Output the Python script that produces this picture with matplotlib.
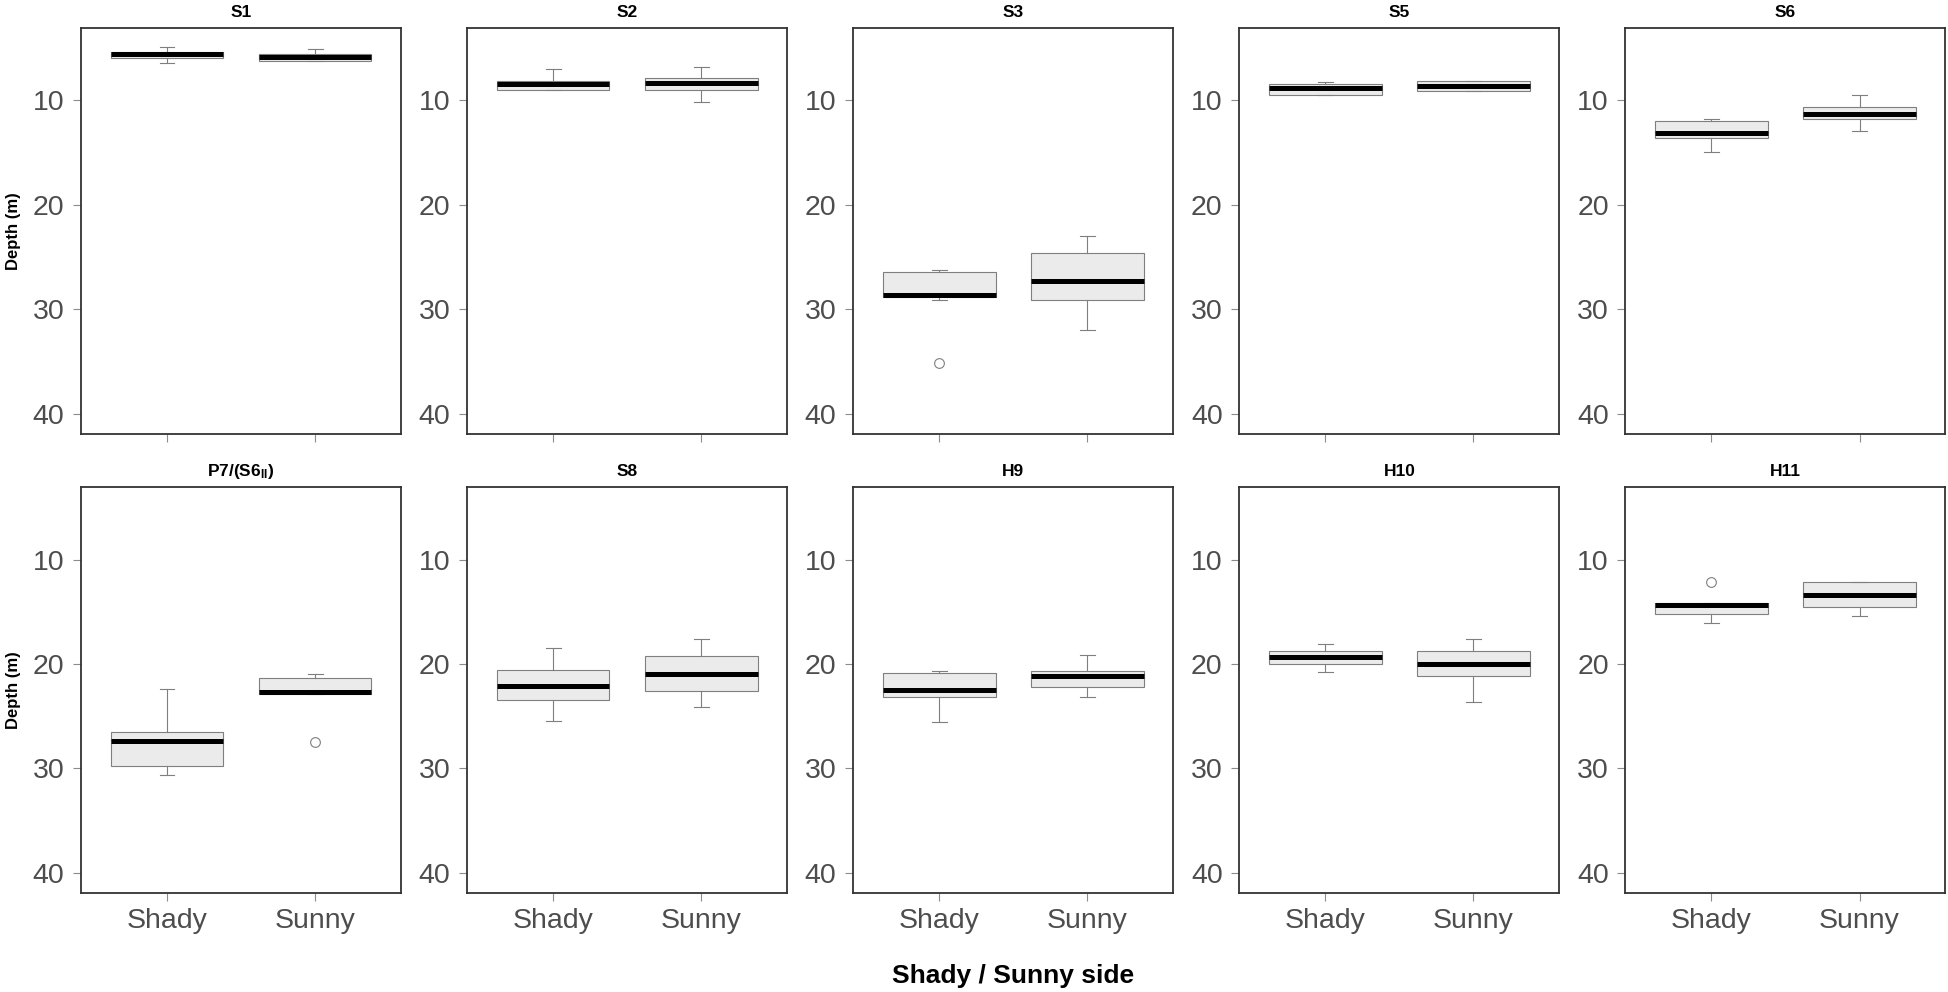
import matplotlib
matplotlib.use("Agg")
import matplotlib.pyplot as plt

plt.rcParams['font.family'] = ['Liberation Sans', 'DejaVu Sans']
plt.rcParams['mathtext.fontset'] = 'custom'
plt.rcParams['mathtext.rm'] = 'Liberation Sans'
plt.rcParams['mathtext.bf'] = 'Liberation Sans:bold'

sites = ['S1', 'S2', 'S3', 'S5', 'S6',
         r'P7/(S6$\mathbf{_{II}}$)', 'S8', 'H9', 'H10', 'H11']
sides = ['Shady', 'Sunny']

# whisker low, Q1, median, Q3, whisker high  (depth, m)
shady_stats = [
    [4.85, 5.33, 5.53, 5.96, 6.38],
    [6.96, 8.15, 8.40, 9.00, 9.00],
    [26.23, 26.42, 28.63, 28.85, 29.07],
    [8.19, 8.38, 8.83, 9.49, 9.49],
    [11.81, 12.00, 13.08, 13.56, 14.92],
    [22.40, 26.55, 27.40, 29.75, 30.63],
    [18.51, 20.54, 22.12, 23.42, 25.44],
    [20.63, 20.89, 22.47, 23.16, 25.57],
    [18.05, 18.77, 19.37, 20.00, 20.75],
    [14.15, 14.15, 14.38, 15.26, 16.11],
]
sunny_stats = [
    [5.10, 5.58, 5.87, 6.22, 6.22],
    [6.80, 7.86, 8.37, 9.00, 10.16],
    [22.97, 24.63, 27.28, 29.07, 31.98],
    [8.13, 8.13, 8.57, 9.05, 9.05],
    [9.52, 10.67, 11.30, 11.78, 12.92],
    [20.92, 21.30, 22.65, 22.87, 22.87],
    [17.63, 19.24, 20.98, 22.56, 24.15],
    [19.11, 20.63, 21.11, 22.22, 23.13],
    [17.64, 18.77, 20.03, 21.16, 23.62],
    [12.12, 12.12, 13.44, 14.57, 15.42],
]
shady_fliers = [[], [], [35.14], [], [], [], [], [], [], [12.12]]
sunny_fliers = [[], [], [], [], [], [27.52], [], [], [], []]

y_ticks = [10, 20, 30, 40]


def to_bxp(s, fl, label):
    return dict(whislo=s[0], q1=s[1], med=s[2], q3=s[3], whishi=s[4],
                fliers=fl, label=label)


fig = plt.figure(figsize=(19.49, 9.92), dpi=100, facecolor='white')

grey = '#7f7f7f'
lefts = [0.0416 + i * 0.1981 for i in range(5)]
rows = [(0.5626, 0.4092), (0.0998, 0.4092)]

for k, site in enumerate(sites):
    r, c = divmod(k, 5)
    bottom, height = rows[r]
    ax = fig.add_axes([lefts[c], bottom, 0.1642, height])
    stats = [to_bxp(shady_stats[k], shady_fliers[k], sides[0]),
             to_bxp(sunny_stats[k], sunny_fliers[k], sides[1])]
    ax.bxp(stats, positions=[1, 2], widths=0.76, patch_artist=True,
           capwidths=0.1,
           boxprops=dict(facecolor='#ebebeb', edgecolor=grey, linewidth=0.8),
           medianprops=dict(color='black', linewidth=3.6, solid_capstyle='butt'),
           whiskerprops=dict(color=grey, linewidth=0.8),
           capprops=dict(color=grey, linewidth=0.8),
           flierprops=dict(marker='o', markerfacecolor='none',
                           markeredgecolor=grey, markersize=7,
                           markeredgewidth=0.8))
    ax.set_xlim(0.42, 2.58)
    ax.set_ylim(41.94, 3.06)
    ax.set_yticks(y_ticks)
    ax.set_xticks([1, 2])
    ax.tick_params(axis='both', labelsize=20.5, labelcolor='#4d4d4d',
                   color='#8c8c8c', length=6, width=0.8, pad=6)
    if r == 0:
        ax.tick_params(axis='x', labelbottom=False)
    else:
        ax.set_xticklabels(sides)
        ax.tick_params(axis='x', pad=5)
    for sp in ax.spines.values():
        sp.set_color('#333333')
        sp.set_linewidth(1.3)
    ax.set_title(site, fontsize=12.5, fontweight='bold', pad=8)

for r in range(2):
    bottom, height = rows[r]
    fig.text(0.007, bottom + height / 2, 'Depth (m)', rotation=90,
             ha='center', va='center', fontsize=12, fontweight='bold')

fig.text(0.52, 0.016, 'Shady / Sunny side', ha='center', va='center',
         fontsize=19, fontweight='bold')

fig.savefig('out.png', dpi=100)
